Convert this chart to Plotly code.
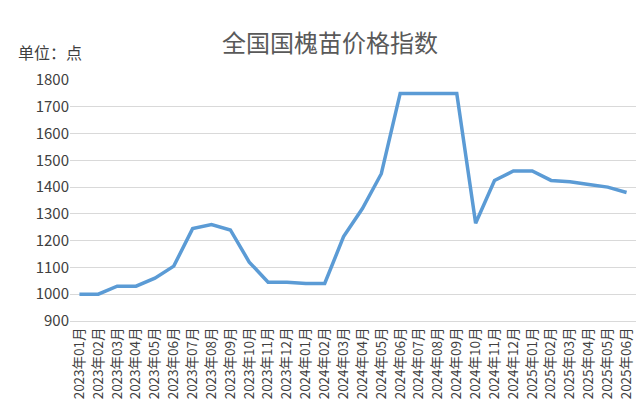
import plotly.graph_objects as go

months = [f"{y}年{m:02d}月" for y, m in
          [(2023, i) for i in range(1, 13)] + [(2024, i) for i in range(1, 13)] + [(2025, i) for i in range(1, 7)]]
values = [1000, 1000, 1030, 1030, 1060, 1105, 1245, 1260, 1240, 1120, 1045, 1045,
          1040, 1040, 1215, 1320, 1450, 1750, 1750, 1750, 1750, 1265, 1425, 1460,
          1460, 1425, 1420, 1410, 1400, 1380]
yticks = [900, 1000, 1100, 1200, 1300, 1400, 1500, 1600, 1700, 1800]

fig = go.Figure(go.Scatter(x=months, y=values, mode="lines",
                           line=dict(color="#5B9BD5", width=3.5)))
font = "Noto Sans CJK SC"
fig.update_layout(
    width=644, height=416, plot_bgcolor="white", paper_bgcolor="white",
    margin=dict(l=62, r=16, t=72, b=103), showlegend=False,
    font=dict(family=font, color="#404040", size=13),
    title=dict(text="全国国槐苗价格指数", x=0.5, xanchor="center", y=0.915, yanchor="middle",
               font=dict(size=24, color="#595959", family=font)),
    annotations=[dict(text="单位：点", xref="paper", yref="paper", x=-0.095, y=1.06,
                      xanchor="left", yanchor="bottom", showarrow=False,
                      font=dict(size=16, color="#404040", family=font))],
)
fig.update_xaxes(tickangle=-90, showgrid=False, showline=True, linecolor="#D9D9D9",
                 range=[-0.5, 29.5], ticks="", tickfont=dict(size=13.5, color="#404040"))
fig.update_yaxes(range=[900, 1800], tickvals=yticks, showgrid=True, gridcolor="#D9D9D9",
                 zeroline=False, tickfont=dict(size=15, color="#404040"), ticks="")
fig.write_html("out.html")
